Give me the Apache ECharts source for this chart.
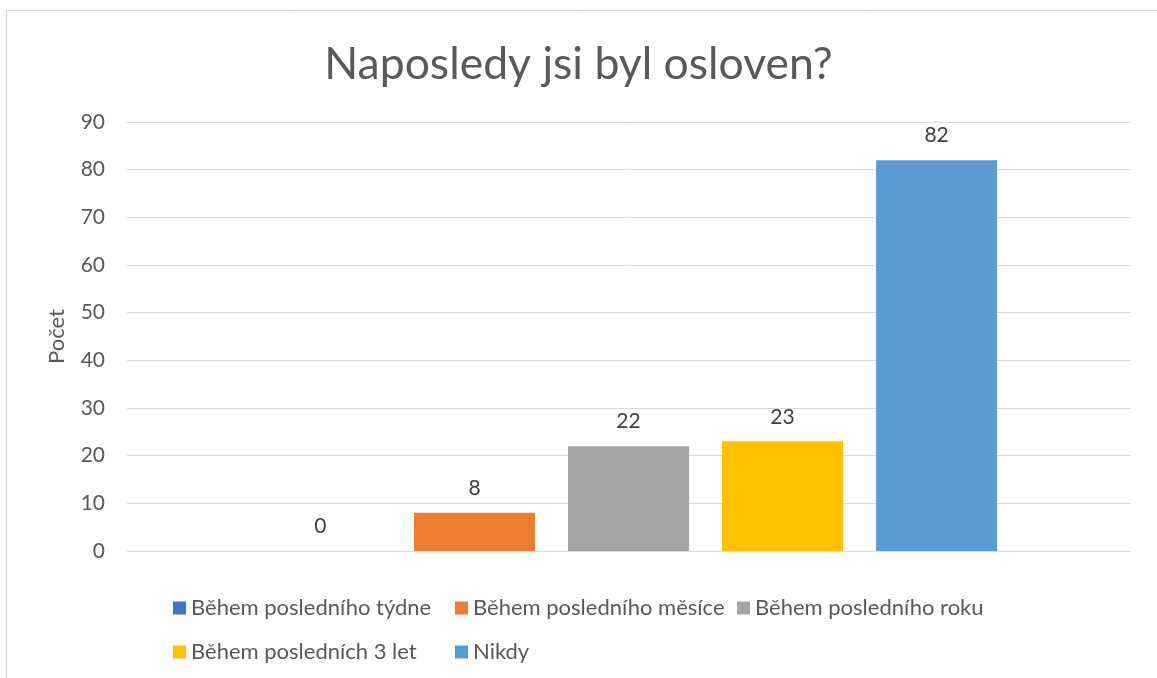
<!DOCTYPE html>
<html><head><meta charset="utf-8">
<script src="https://cdn.jsdelivr.net/npm/echarts@6/dist/echarts.min.js"></script>
<style>html,body{margin:0;padding:0;background:#fff}#c{width:1157px;height:678px}</style>
</head><body><div id="c"></div>
<script>
const titleText = 'Naposledy jsi byl osloven?';
const yAxisName = 'Počet';
const categories = [''];
const seriesNames = ['Během posledního týdne','Během posledního měsíce','Během posledního roku','Během posledních 3 let','Nikdy'];
const seriesValues = [0, 8, 22, 23, 82];
const seriesColors = ['#4472C4','#ED7D31','#A5A5A5','#FFC000','#5B9BD5'];
const yTicks = [0,10,20,30,40,50,60,70,80,90];

const FONT = 'Lato';
const TXT = '#595959';
const legendPos = [[168,592],[450,592],[732,592],[168,636],[450,636]];

const chart = echarts.init(document.getElementById('c'));
chart.setOption({
  animation:false,
  textStyle:{fontFamily:FONT},
  title:{text:titleText,left:'center',top:37,textStyle:{fontFamily:FONT,fontSize:44.5,fontWeight:'normal',color:TXT},right:0},
  graphic:[{type:'rect',shape:{x:6.5,y:10.5,width:1200,height:700},style:{fill:'none',stroke:'#d9d9d9',lineWidth:1},silent:true,z:-1}],
  legend: seriesNames.map((n,i)=>({
    data:[n], left:legendPos[i][0], top:legendPos[i][1], itemWidth:13, itemHeight:13, itemGap:0,
    icon:'rect', textStyle:{fontFamily:FONT,fontSize:22,color:TXT}, selectedMode:false
  })),
  grid:{left:127,right:27,top:122,bottom:127,containLabel:false},
  xAxis:{type:'category',data:categories,axisLine:{show:false},axisTick:{show:false},axisLabel:{show:false}},
  yAxis:{type:'value',min:yTicks[0],max:yTicks[yTicks.length-1],interval:10,
    name:yAxisName,nameLocation:'middle',nameGap:59,nameRotate:90,
    nameTextStyle:{fontFamily:FONT,fontSize:22,color:TXT},
    axisLabel:{fontFamily:FONT,fontSize:21,color:TXT,margin:22},
    splitLine:{lineStyle:{color:'#d9d9d9',width:1}},axisLine:{show:false},axisTick:{show:false}},
  series: seriesNames.map((n,i)=>({
    name:n,type:'bar',data:[seriesValues[i]],barWidth:121,barGap:'27.3%',
    itemStyle:{color:seriesColors[i]},
    label:{show:true,position:'top',distance:14,fontFamily:FONT,fontSize:21,color:'#404040'}
  }))
});
</script></body></html>
